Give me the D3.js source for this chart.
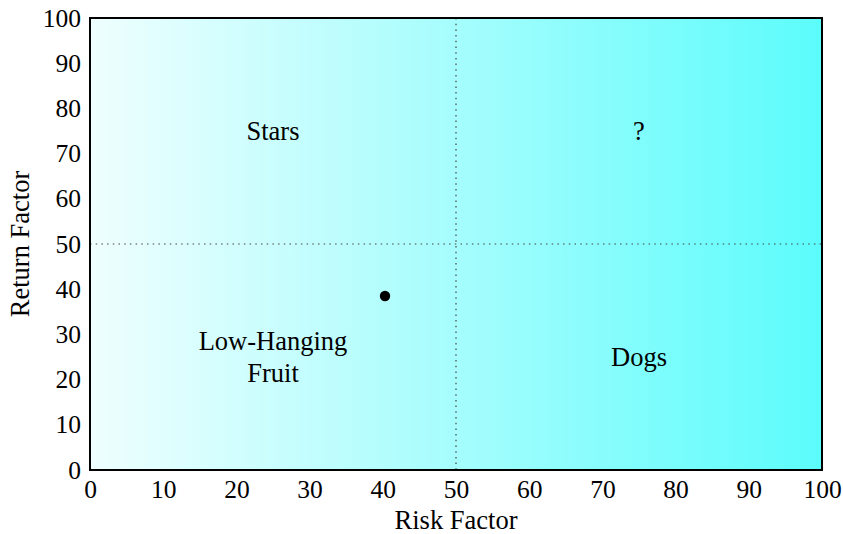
<!DOCTYPE html>
<html>
<head>
<meta charset="utf-8">
<script src="https://cdn.jsdelivr.net/npm/d3@7"></script>
<style>
  body { margin: 0; background: #fff; }
  text { font-family: "Liberation Serif", "Times New Roman", serif; fill: #000; }
</style>
</head>
<body>
<svg id="chart" width="843" height="534"></svg>
<script>
// Risk / return quadrant chart
const xTicks = [0, 10, 20, 30, 40, 50, 60, 70, 80, 90, 100];
const yTicks = [0, 10, 20, 30, 40, 50, 60, 70, 80, 90, 100];
const quadrantNames = ["Stars", "?", "Low-Hanging\nFruit", "Dogs"];
const quadrantX = [25, 75, 25, 75];
const quadrantY = [75, 75, 25, 25];
const pointsX = [40.3];
const pointsY = [38.5];
const dividerX = 50;
const dividerY = 50;

const svg = d3.select("#chart");
const margin = { left: 90, top: 18, right: 21, bottom: 64 };
const W = 843, H = 534;
const FS = 25.5;      // tick labels
const FS_LABEL = 26.5; // quadrant names and axis titles
const x = d3.scaleLinear().domain([0, 100]).range([margin.left, W - margin.right]);
const y = d3.scaleLinear().domain([0, 100]).range([H - margin.bottom, margin.top]);

const defs = svg.append("defs");
const grad = defs.append("linearGradient").attr("id", "bg").attr("x1", "0%").attr("x2", "100%").attr("y1", "0%").attr("y2", "0%");
grad.append("stop").attr("offset", "0%").attr("stop-color", "#effefe");
grad.append("stop").attr("offset", "100%").attr("stop-color", "#5cfcfc");

svg.append("rect")
  .attr("x", x(0)).attr("y", y(100))
  .attr("width", x(100) - x(0)).attr("height", y(0) - y(100))
  .attr("fill", "url(#bg)");

// quadrant dividers
svg.append("line")
  .attr("x1", x(dividerX)).attr("x2", x(dividerX))
  .attr("y1", y(100)).attr("y2", y(0))
  .attr("stroke", "#444").attr("stroke-width", 1.2).attr("stroke-dasharray", "1.5,4.2");
svg.append("line")
  .attr("x1", x(0)).attr("x2", x(100))
  .attr("y1", y(dividerY)).attr("y2", y(dividerY))
  .attr("stroke", "#444").attr("stroke-width", 1.2).attr("stroke-dasharray", "1.5,4.2");

// quadrant labels
quadrantNames.forEach((name, i) => {
  const lines = name.split("\n");
  const t = svg.append("text")
    .attr("text-anchor", "middle")
    .attr("font-size", FS_LABEL)
    .attr("x", x(quadrantX[i]))
    .attr("y", y(quadrantY[i]));
  const lh = 32;
  const off = -(lines.length - 1) * lh / 2;
  lines.forEach((ln, j) => {
    t.append("tspan")
      .attr("x", x(quadrantX[i]))
      .attr("y", y(quadrantY[i]) + off + j * lh)
      .attr("dy", "0.35em")
      .text(ln);
  });
});

// data point
svg.selectAll("circle.pt").data(pointsX).join("circle")
  .attr("class", "pt")
  .attr("cx", (d, i) => x(d))
  .attr("cy", (d, i) => y(pointsY[i]))
  .attr("r", 5.2)
  .attr("fill", "#000");

// frame
svg.append("rect")
  .attr("x", x(0)).attr("y", y(100))
  .attr("width", x(100) - x(0)).attr("height", y(0) - y(100))
  .attr("fill", "none").attr("stroke", "#000").attr("stroke-width", 2);

// axes (labels only, no tick marks)
const xAxis = svg.append("g")
  .attr("transform", `translate(0,${y(0)})`)
  .call(d3.axisBottom(x).tickValues(xTicks).tickSize(0).tickPadding(10).tickFormat(d3.format("d")));
xAxis.select(".domain").remove();
xAxis.selectAll("text").attr("font-size", FS);

const yAxis = svg.append("g")
  .attr("transform", `translate(${x(0)},0)`)
  .call(d3.axisLeft(y).tickValues(yTicks).tickSize(0).tickPadding(9).tickFormat(d3.format("d")));
yAxis.select(".domain").remove();
yAxis.selectAll("text").attr("font-size", FS);

svg.append("text")
  .attr("x", (x(0) + x(100)) / 2).attr("y", 529)
  .attr("text-anchor", "middle").attr("font-size", FS_LABEL)
  .text("Risk Factor");

svg.append("text")
  .attr("transform", `translate(29,${(y(0) + y(100)) / 2}) rotate(-90)`)
  .attr("text-anchor", "middle").attr("font-size", FS_LABEL)
  .text("Return Factor");
</script>
</body>
</html>
